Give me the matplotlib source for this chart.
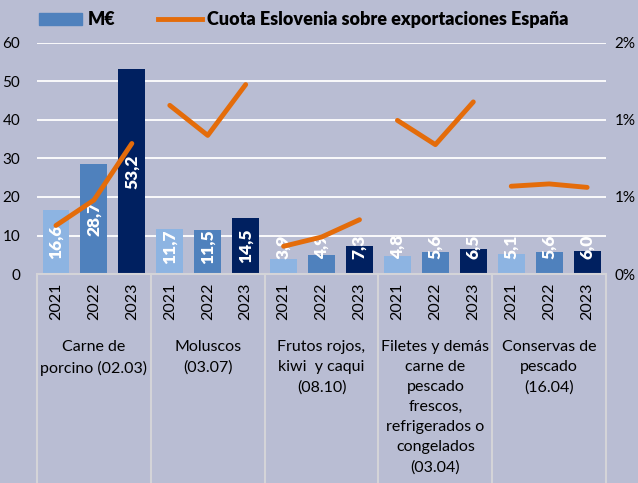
import matplotlib
matplotlib.use("Agg")
import matplotlib.pyplot as plt
from matplotlib.patches import Patch
from matplotlib.lines import Line2D
from matplotlib.ticker import FuncFormatter

plt.rcParams['font.family'] = ['Lato', 'DejaVu Sans']

categories = ["Carne de\nporcino (02.03)", "Moluscos\n(03.07)",
              "Frutos rojos,\nkiwi  y caqui\n(08.10)",
              "Filetes y demás\ncarne de\npescado\nfrescos,\nrefrigerados o\ncongelados\n(03.04)",
              "Conservas de\npescado\n(16.04)"]
years = ["2021", "2022", "2023"]
# M€ per category, per year
valores = [[16.6, 28.7, 53.2],
           [11.7, 11.5, 14.5],
           [3.9, 4.9, 7.3],
           [4.8, 5.6, 6.5],
           [5.1, 5.6, 6.0]]
# cuota Eslovenia sobre exportaciones España (fraction)
cuota = [[0.0042, 0.0064, 0.0113],
         [0.0146, 0.0120, 0.0164],
         [0.0024, 0.0032, 0.0047],
         [0.0133, 0.0112, 0.0149],
         [0.0076, 0.0078, 0.0075]]

bg = '#B9BDD3'
colores = ['#8DB4E2', '#4F81BD', '#002060']
naranja = '#E46C0A'
gris = '#D4D4D8'

fig = plt.figure(figsize=(6.38, 4.83), dpi=100, facecolor=bg)
ax = fig.add_axes([0.058, 0.4327, 0.892, 0.4783])
ax.set_facecolor(bg)
ax2 = ax.twinx()

xs = []
for g in range(len(categories)):
    for k in range(3):
        x = g * 3 + k
        xs.append(x)
        v = valores[g][k]
        ax.bar(x, v, width=0.71, color=colores[k], zorder=2)
        ypos = max(v / 2, 7.0)
        ax.text(x, ypos, f"{v:.1f}".replace('.', ','), rotation=90, color='white',
                fontweight='heavy', fontsize=12.5, ha='center', va='center', zorder=3)
    ax2.plot([g * 3, g * 3 + 1, g * 3 + 2], cuota[g], color=naranja, lw=3.5,
             solid_capstyle='round', zorder=4)

ax.set_ylim(0, 60)
ax.set_yticks(range(0, 61, 10))
ax.set_xlim(-0.5, 14.5)
ax.grid(axis='y', color='white', lw=1.3, zorder=0)
ax.set_axisbelow(True)
ax.set_xticks(xs)
ax.set_xticklabels(years * 5, rotation=90, fontsize=11.5)
ax.tick_params(axis='both', length=0, labelsize=11)
ax.tick_params(axis='x', labelsize=11.5, pad=6)
ax.tick_params(axis='y', pad=12)
for s in ax.spines.values():
    s.set_visible(False)
ax.spines['bottom'].set_visible(True)
ax.spines['bottom'].set_color(gris)
ax.spines['bottom'].set_linewidth(1.5)

ax2.set_ylim(0, 0.02)
ax2.set_yticks([0, 0.02 / 3, 0.04 / 3, 0.02])
ax2.yaxis.set_major_formatter(FuncFormatter(lambda v, p: f"{v * 100:.0f}%"))
ax2.tick_params(axis='y', length=0, labelsize=11, pad=6)
for s in ax2.spines.values():
    s.set_visible(False)
ax2.set_zorder(ax.get_zorder() + 1)
ax2.patch.set_visible(False)

# group separators and category labels
trans = ax.get_xaxis_transform()
for b in [-0.5, 2.5, 5.5, 8.5, 11.5, 14.5]:
    ax.plot([b, b], [0, -0.91], transform=trans, color=gris, lw=1.5, clip_on=False)
for g, name in enumerate(categories):
    ax.text(g * 3 + 1, -0.285, name, transform=trans, ha='center', va='top',
            fontsize=11.5, linespacing=1.55)

handles = [Patch(color='#4F81BD'), Line2D([0], [0], color=naranja, lw=3.5)]
fig.legend(handles, ["M€", "Cuota Eslovenia sobre exportaciones España"],
           loc='upper left', bbox_to_anchor=(0.035, 1.01), ncol=2, frameon=False,
           prop={'weight': 'heavy', 'size': 13}, handlelength=2.4,
           handleheight=0.6, columnspacing=2.4, handletextpad=0.3)

fig.savefig("out.png", dpi=100, facecolor=bg)
